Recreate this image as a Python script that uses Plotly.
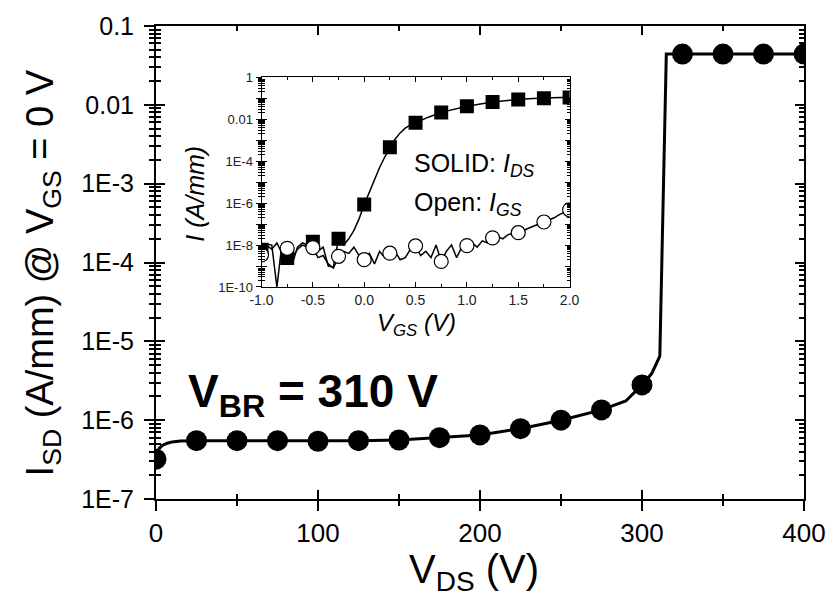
import plotly.graph_objects as go
import numpy as np

# ---------------- main plot data ----------------
vds_pts = [0, 25, 50, 75, 100, 125, 150, 175, 200, 225, 250, 275, 300, 325, 350, 375, 400]
isd_pts = [3.2e-7, 5.5e-7, 5.5e-7, 5.5e-7, 5.4e-7, 5.5e-7, 5.6e-7, 6.0e-7, 6.5e-7, 7.8e-7,
           1.0e-6, 1.35e-6, 2.8e-6, 0.044, 0.044, 0.044, 0.044]

vds_line = [0, 1, 2, 4, 7, 10, 15, 25, 50, 75, 100, 125, 150, 175, 200, 225, 250, 275,
            290, 300, 306, 311, 315, 325, 350, 375, 400]
isd_line = [3.3e-7, 4.0e-7, 4.4e-7, 4.8e-7, 5.1e-7, 5.3e-7, 5.45e-7, 5.5e-7, 5.5e-7, 5.5e-7,
            5.4e-7, 5.5e-7, 5.6e-7, 6.0e-7, 6.5e-7, 7.8e-7, 1.0e-6, 1.35e-6,
            1.75e-6, 2.8e-6, 3.9e-6, 6.5e-6, 0.044, 0.044, 0.044, 0.044, 0.044]

x_ticks = [0, 100, 200, 300, 400]
y_ticks = [1e-7, 1e-6, 1e-5, 1e-4, 1e-3, 1e-2, 1e-1]
y_ticktext = ["1E-7", "1E-6", "1E-5", "1E-4", "1E-3", "0.01", "0.1"]

# ---------------- inset data ----------------
vgs_pts = [-1.0, -0.75, -0.5, -0.25, 0.0, 0.25, 0.5, 0.75, 1.0, 1.25, 1.5, 1.75, 2.0]
ids_pts = [6e-9, 2.4e-9, 1.45e-8, 2.0e-8, 8.5e-7, 4.6e-4, 6.9e-3, 2.1e-2, 4.2e-2,
           6.6e-2, 8.9e-2, 1.0e-1, 1.1e-1]
igs_pts = [3.4e-9, 7e-9, 7.6e-9, 2.9e-9, 2.0e-9, 4.1e-9, 9.1e-9, 1.66e-9, 9.4e-9,
           2.2e-8, 3.9e-8, 1.26e-7, 4.8e-7]

vgs_ids_line = [-1.0, -0.95, -0.9, -0.85, -0.8, -0.75, -0.7, -0.65, -0.6, -0.55, -0.5,
                -0.45, -0.4, -0.35, -0.3, -0.25, -0.2, -0.15, -0.1, -0.05, 0.0, 0.05,
                0.1, 0.15, 0.2, 0.25, 0.3, 0.35, 0.4, 0.45, 0.5, 0.625, 0.75, 0.875,
                1.0, 1.25, 1.5, 1.75, 2.0]
ids_line_exp = [-8.2, -7.95, -8.0, -10.0, -7.9, -8.62, -8.9, -8.1, -7.9, -8.0, -7.84,
                -8.3, -8.1, -9.0, -9.05, -7.68, -8.0, -7.7, -7.3, -6.75, -6.07, -5.45,
                -4.85, -4.3, -3.8, -3.34, -2.95, -2.65, -2.42, -2.27, -2.16, -1.9, -1.67,
                -1.52, -1.38, -1.18, -1.05, -0.99, -0.955]

vgs_igs_line = [-1.0, -0.95, -0.9, -0.85, -0.8, -0.75, -0.7, -0.65, -0.6, -0.55, -0.5,
                -0.45, -0.4, -0.35, -0.3, -0.25, -0.2, -0.15, -0.1, -0.05, 0.0, 0.05,
                0.1, 0.15, 0.2, 0.25, 0.3, 0.35, 0.4, 0.45, 0.5, 0.55, 0.6, 0.65, 0.7,
                0.75, 0.8, 0.85, 0.9, 0.95, 1.0, 1.05, 1.1, 1.15, 1.2, 1.25, 1.3, 1.35,
                1.4, 1.45, 1.5, 1.6, 1.7, 1.75, 1.85, 1.9, 2.0]
igs_line_exp = [-8.47, -8.0, -8.2, -7.9, -8.4, -8.15, -8.6, -8.2, -8.0, -8.1, -8.12,
                -8.6, -8.5, -8.9, -9.1, -8.54, -8.3, -8.4, -8.1, -8.5, -8.7, -8.4,
                -8.9, -8.3, -8.6, -8.39, -8.3, -8.7, -8.6, -8.2, -8.04, -8.5, -8.3,
                -8.6, -8.0, -8.78, -8.3, -8.0, -8.6, -8.1, -8.03, -7.9, -8.1, -7.8,
                -7.9, -7.65, -7.6, -7.7, -7.5, -7.45, -7.41, -7.2, -7.0, -6.9, -6.7,
                -6.55, -6.32]

inset_x_ticks = [-1.0, -0.5, 0.0, 0.5, 1.0, 1.5, 2.0]
inset_x_ticktext = ["-1.0", "-0.5", "0.0", "0.5", "1.0", "1.5", "2.0"]
inset_y_ticks = [1e-10, 1e-9, 1e-8, 1e-7, 1e-6, 1e-5, 1e-4, 1e-3, 1e-2, 1e-1, 1]
inset_y_ticktext = ["1E-10", "", "1E-8", "", "1E-6", "", "1E-4", "", "0.01", "", "1"]

ids_line = [10 ** e for e in ids_line_exp]
igs_line = [10 ** e for e in igs_line_exp]

def log_minor(lo, hi):
    return [m * 10.0 ** k for k in range(lo, hi) for m in range(2, 10)]

SANS = "Liberation Sans, Arial, sans-serif"

fig = go.Figure()

# main
fig.add_trace(go.Scatter(x=vds_line, y=isd_line, mode="lines",
                         line=dict(color="black", width=3), showlegend=False,
                         xaxis="x", yaxis="y"))
fig.add_trace(go.Scatter(x=vds_pts, y=isd_pts, mode="markers",
                         marker=dict(color="black", size=21, symbol="circle"),
                         showlegend=False, xaxis="x", yaxis="y"))
# dummy trace for overlay tick axes of the main frame
fig.add_trace(go.Scatter(x=[None], y=[None], xaxis="x3", yaxis="y3", showlegend=False,
                         hoverinfo="skip"))

# inset
fig.add_trace(go.Scatter(x=vgs_ids_line, y=ids_line, mode="lines",
                         line=dict(color="black", width=1.5), showlegend=False,
                         xaxis="x2", yaxis="y2"))
fig.add_trace(go.Scatter(x=vgs_igs_line, y=igs_line, mode="lines",
                         line=dict(color="black", width=1.5), showlegend=False,
                         xaxis="x2", yaxis="y2"))
fig.add_trace(go.Scatter(x=vgs_pts, y=ids_pts, mode="markers",
                         marker=dict(color="black", size=14, symbol="square"),
                         showlegend=False, xaxis="x2", yaxis="y2"))
fig.add_trace(go.Scatter(x=vgs_pts, y=igs_pts, mode="markers",
                         marker=dict(color="white", size=14, symbol="circle",
                                     line=dict(color="black", width=1.2)),
                         showlegend=False, xaxis="x2", yaxis="y2"))
fig.add_trace(go.Scatter(x=[None], y=[None], xaxis="x2", yaxis="y4", showlegend=False,
                         hoverinfo="skip"))

L, R, T, B = 156, 31, 20, 109
W, H = 838, 608
pw, ph = W - L - R, H - T - B

def px_x(p):
    return (p - L) / pw

def px_y(p):
    return (H - B - p) / ph

ix0, ix1 = px_x(262), px_x(571.5)
iy0, iy1 = px_y(284.3), px_y(72)

fig.update_layout(
    width=W, height=H, margin=dict(l=L, r=R, t=T, b=B),
    paper_bgcolor="white", plot_bgcolor="white",
    font=dict(family=SANS, color="black"),
    xaxis=dict(domain=[0, 1], range=[0, 400], anchor="y",
               tickvals=x_ticks, ticks="outside", ticklen=10, tickwidth=2,
               tickcolor="black", showline=True, linewidth=2, linecolor="black",
               mirror=True, showgrid=False, zeroline=False,
               tickfont=dict(family=SANS, size=26),
               minor=dict(ticks="outside", ticklen=5, tickwidth=2, dtick=50,
                          tickcolor="black", showgrid=False)),
    yaxis=dict(domain=[0, 1], type="log", range=[-7, -1], anchor="x",
               tickvals=y_ticks, ticktext=y_ticktext, ticks="outside", ticklen=10,
               tickwidth=2, tickcolor="black", showline=True, linewidth=2,
               linecolor="black", mirror=True, showgrid=False, zeroline=False,
               tickfont=dict(family=SANS, size=25), ticklabelstandoff=5,
               minor=dict(ticks="outside", ticklen=5, tickwidth=1.5,
                          tickvals=log_minor(-7, -1), tickcolor="black",
                          showgrid=False)),
    xaxis3=dict(overlaying="x", matches="x", range=[0, 400], anchor="y3",
                tickvals=x_ticks, ticks="inside", ticklen=9, tickwidth=2,
                tickcolor="black", showline=False, mirror="ticks",
                showticklabels=False, showgrid=False, zeroline=False,
                minor=dict(ticks="inside", ticklen=5, tickwidth=2, dtick=50,
                           tickcolor="black", showgrid=False)),
    yaxis3=dict(overlaying="y", matches="y", type="log", range=[-7, -1], anchor="x3",
                tickvals=y_ticks, ticks="inside", ticklen=9, tickwidth=2,
                tickcolor="black", showline=False, mirror="ticks",
                showticklabels=False, showgrid=False, zeroline=False,
                minor=dict(ticks="inside", ticklen=5, tickwidth=1.5,
                           tickvals=log_minor(-7, -1), tickcolor="black",
                           showgrid=False)),
    xaxis2=dict(domain=[ix0, ix1], range=[-1, 2], anchor="y2",
                tickvals=inset_x_ticks, ticktext=inset_x_ticktext,
                ticks="inside", ticklen=5, tickwidth=1, tickcolor="black",
                showline=True, linewidth=1, linecolor="black", mirror="ticks",
                showgrid=False, zeroline=False,
                tickfont=dict(family=SANS, size=14, color="#222"),
                minor=dict(ticks="inside", ticklen=3, tickwidth=1, dtick=0.25,
                           tickcolor="black", showgrid=False)),
    yaxis2=dict(domain=[iy0, iy1], type="log", range=[-10, 0], anchor="x2",
                tickvals=inset_y_ticks, ticktext=inset_y_ticktext,
                ticks="outside", ticklen=5, tickwidth=1, tickcolor="black",
                showline=True, linewidth=1, linecolor="black", mirror=True,
                showgrid=False, zeroline=False,
                tickfont=dict(family=SANS, size=13, color="#222"),
                minor=dict(ticks="outside", ticklen=3, tickwidth=1,
                           tickvals=log_minor(-10, 0), tickcolor="black",
                           showgrid=False)),
    yaxis4=dict(overlaying="y2", matches="y2", type="log", range=[-10, 0], anchor="x2",
                tickvals=inset_y_ticks, ticks="inside", ticklen=5, tickwidth=1,
                tickcolor="black", showline=False, mirror="ticks",
                showticklabels=False, showgrid=False, zeroline=False,
                minor=dict(ticks="inside", ticklen=3, tickwidth=1,
                           tickvals=log_minor(-10, 0), tickcolor="black",
                           showgrid=False)),
)

ann = [
    # main axis titles
    dict(text="I<sub>SD</sub> (A/mm) @ V<sub>GS</sub> = 0 V", x=px_x(42), y=px_y(270),
         textangle=-90, font=dict(family=SANS, size=38)),
    dict(text="V<sub>DS</sub> (V)", x=px_x(475), y=px_y(546), yanchor="top",
         font=dict(family=SANS, size=40)),
    # breakdown label
    dict(text="<b>V<sub>BR</sub> = 310 V</b>", x=px_x(186), y=px_y(361),
         xanchor="left", yanchor="top", font=dict(family=SANS, size=46)),
    # inset labels
    dict(text="SOLID: <i>I</i><sub><i>DS</i></sub>", x=px_x(413), y=px_y(143),
         xanchor="left", yanchor="top", font=dict(family=SANS, size=25)),
    dict(text="Open: <i>I</i><sub><i>GS</i></sub>", x=px_x(413), y=px_y(182),
         xanchor="left", yanchor="top", font=dict(family=SANS, size=25)),
    dict(text="<i>I (A/mm)</i>", x=px_x(195), y=px_y(190), textangle=-90,
         font=dict(family=SANS, size=25)),
    dict(text="<i>V</i><sub><i>GS</i></sub><i> (V)</i>", x=px_x(418), y=px_y(305),
         yanchor="top", font=dict(family=SANS, size=24)),
]
for a in ann:
    a.setdefault("xref", "paper")
    a.setdefault("yref", "paper")
    a.setdefault("showarrow", False)
    a.setdefault("xanchor", "center")
    a.setdefault("yanchor", "middle")
    fig.add_annotation(**a)

fig.write_html("out.html")
